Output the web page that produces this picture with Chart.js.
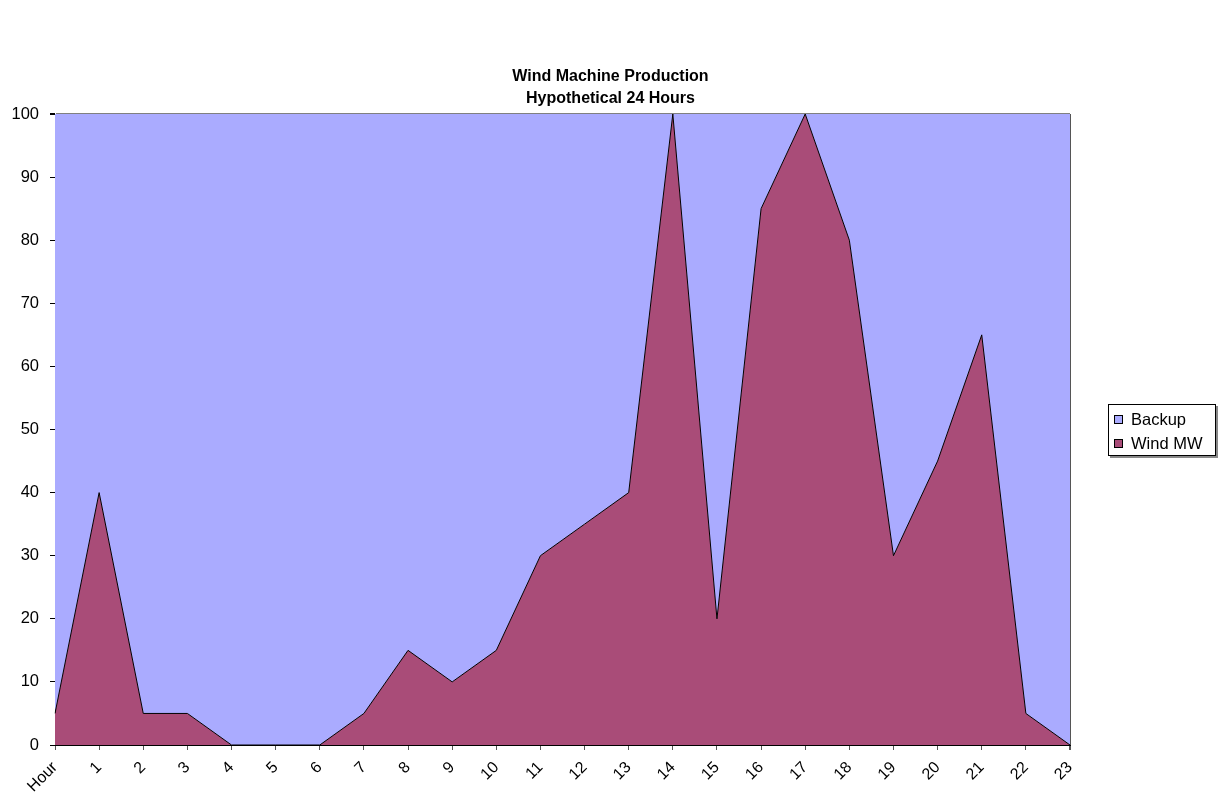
<!DOCTYPE html>
<html>
<head>
<meta charset="utf-8">
<script src="https://cdn.jsdelivr.net/npm/chart.js@4/dist/chart.umd.min.js"></script>
<style>
  html, body { margin:0; padding:0; background:#fff; }
  #wrap { position:relative; width:1221px; height:800px; font-family:"Liberation Sans", Arial, sans-serif; }
  #title { position:absolute; left:0; top:65px; width:1221px; text-align:center; font-weight:bold; font-size:16px; line-height:22px; color:#000; }
  #legend { position:absolute; left:1108px; top:404px; width:108px; height:52px; border:1px solid #000; background:#fff; box-shadow:2px 2px 0 #888; box-sizing:border-box; padding:2px 0 0 5px; }
  .item { font-size:16.5px; line-height:24px; height:24px; color:#000; white-space:nowrap; }
  .sw { display:inline-block; width:7px; height:7px; border:1px solid #000; margin-right:8px; vertical-align:1px; }
  canvas { position:absolute; left:0; top:0; }
</style>
</head>
<body>
<div id="wrap">
  <canvas id="c" width="1221" height="800"></canvas>
  <div id="title">Wind Machine Production<br>Hypothetical 24 Hours</div>
  <div id="legend"></div>
</div>
<script>
const categories = ['Hour','1','2','3','4','5','6','7','8','9','10','11','12','13','14','15','16','17','18','19','20','21','22','23'];
const windMW = [5,40,5,5,0,0,0,5,15,10,15,30,35,40,100,20,85,100,80,30,45,65,5,0];
const backup = [95,60,95,95,100,100,100,95,85,90,85,70,65,60,0,80,15,0,20,70,55,35,95,100];
const yTicks = [0,10,20,30,40,50,60,70,80,90,100];

const windColor = '#A94C78';
const backupColor = '#AAABFF';

const lg = document.getElementById('legend');
[['Backup', backupColor], ['Wind MW', windColor]].forEach(([name, col]) => {
  const d = document.createElement('div');
  d.className = 'item';
  d.innerHTML = '<span class="sw" style="background:' + col + '"></span>' + name;
  lg.appendChild(d);
});

new Chart(document.getElementById('c'), {
  type: 'line',
  data: {
    labels: categories,
    datasets: [
      { label: 'Wind MW', data: windMW, fill: 'origin', backgroundColor: windColor, borderColor: '#000', borderWidth: 1, pointRadius: 0, tension: 0 },
      { label: 'Backup', data: backup, fill: '-1', backgroundColor: backupColor, borderColor: 'rgba(0,0,0,0)', borderWidth: 0, pointRadius: 0, tension: 0 }
    ]
  },
  options: {
    responsive: false,
    animation: false,
    devicePixelRatio: 1,
    layout: { padding: { top: 114, right: 151, left: 0, bottom: 0 } },
    plugins: { legend: { display: false }, title: { display: false }, tooltip: { enabled: false } },
    scales: {
      x: {
        offset: false,
        ticks: { color: '#000', font: { family: '"Liberation Sans", Arial', size: 16 }, maxRotation: 45, minRotation: 45, autoSkip: false, padding: 8 },
        grid: {
          drawOnChartArea: true,
          color: ctx => (ctx.index === categories.length - 1 ? '#555' : 'rgba(0,0,0,0)'),
          lineWidth: ctx => (ctx.index === categories.length - 1 ? 2 : 1),
          tickColor: '#555', tickLength: 5
        },
        border: { color: '#000', width: 1 },
        afterFit: s => { s.height = 55; }
      },
      y: {
        stacked: true,
        min: 0, max: 100,
        afterBuildTicks: s => { s.ticks = yTicks.map(v => ({ value: v })); },
        ticks: { color: '#000', font: { family: '"Liberation Sans", Arial', size: 16.5 }, padding: 11 },
        grid: {
          drawOnChartArea: true,
          color: ctx => (ctx.tick && ctx.tick.value === 100 ? '#808080' : 'rgba(0,0,0,0)'),
          lineWidth: ctx => (ctx.tick && ctx.tick.value === 100 ? 2 : 1),
          tickColor: '#000', tickLength: 5
        },
        border: { color: '#000', width: 1 },
        afterFit: s => { s.width = 55; }
      }
    }
  }
});
</script>
</body>
</html>
